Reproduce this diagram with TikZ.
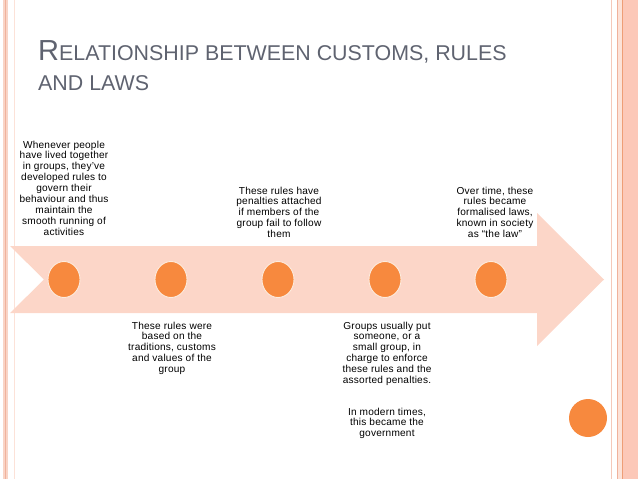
\documentclass[tikz,border=0pt]{standalone}
\usepackage{fontspec}
\setmainfont{Liberation Sans}
\usetikzlibrary{shapes.geometric}
\definecolor{arrowc}{RGB}{252,214,200}
\definecolor{dotc}{RGB}{247,137,62}
\definecolor{dotedge}{RGB}{253,236,222}
\definecolor{titlec}{RGB}{95,99,112}
\definecolor{bandA}{RGB}{249,212,198}
\definecolor{bandB}{RGB}{240,178,156}
\definecolor{bandC}{RGB}{252,226,216}
\definecolor{bandD}{RGB}{238,158,118}
\definecolor{bandE}{RGB}{252,200,184}
\begin{document}
\begin{tikzpicture}[x=1pt,y=-1pt,
  dot/.style={ellipse,fill=dotc,draw=dotedge,line width=0.9pt,minimum width=32pt,minimum height=36pt,inner sep=0pt},
  body/.style={anchor=north,align=center,inner sep=0pt,font=\fontsize{10.1}{10.9}\selectfont\addfontfeatures{LetterSpace=2}},
  titletext/.style={anchor=base west,inner sep=0pt,text=titlec}]
\useasboundingbox (0,0) rectangle (638,479);
% borders
\fill[bandA] (3,0) rectangle (8,479);
\draw[bandB,line width=1.2pt] (5.5,0) -- (5.5,479);
\draw[bandC,line width=0.8pt] (14,0) -- (14,479);
\draw[bandB!70,line width=1.6pt] (611.5,0) -- (611.5,479);
\draw[bandB,line width=1.2pt] (617.3,0) -- (617.3,479);
\fill[bandC] (618,0) rectangle (622,479);
\fill[bandE] (622,0) rectangle (638,479);
\draw[bandD,line width=1.4pt] (622.5,0) -- (622.5,479);
% title
\node[titletext] (title1) at (38,60) {{\fontsize{29}{29}\selectfont R}{\fontsize{21.4}{21.4}\selectfont ELATIONSHIP BETWEEN CUSTOMS, RULES}};
\node[titletext] (title2) at (38,90) {\fontsize{21.4}{21.4}\selectfont AND LAWS};
% arrow
\fill[arrowc] (10,246) -- (537,246) -- (537,213) -- (604,279.5) -- (537,346) -- (537,313) -- (10,313) -- (44,279.5) -- cycle;
% dots
\node[dot] (c1) at (64,279.5) {};
\node[dot] (c2) at (171,279.5) {};
\node[dot] (c3) at (278,279.5) {};
\node[dot] (c4) at (385,279.5) {};
\node[dot] (c5) at (491,279.5) {};
\node[circle,fill=dotc,minimum size=38pt,inner sep=0pt] (c6) at (588,418) {};
% texts
\node[body] (t1) at (64,140.5) {Whenever people\\have lived together\\in groups, they’ve\\developed rules to\\govern their\\behaviour and thus\\maintain the\\smooth running of\\activities};
\node[body] (t2) at (279,186.5) {These rules have\\penalties attached\\if members of the\\group fail to follow\\them};
\node[body] (t3) at (495,186.5) {Over time, these\\rules became\\formalised laws,\\known in society\\as “the law”};
\node[body] (t4) at (172,321.5) {These rules were\\based on the\\traditions, customs\\and values of the\\group};
\node[body] (t5) at (387,321.5) {Groups usually put\\someone, or a\\small group, in\\charge to enforce\\these rules and the\\assorted penalties.};
\node[body] (t6) at (387,407.5) {In modern times,\\this became the\\government};
\end{tikzpicture}
\end{document}
